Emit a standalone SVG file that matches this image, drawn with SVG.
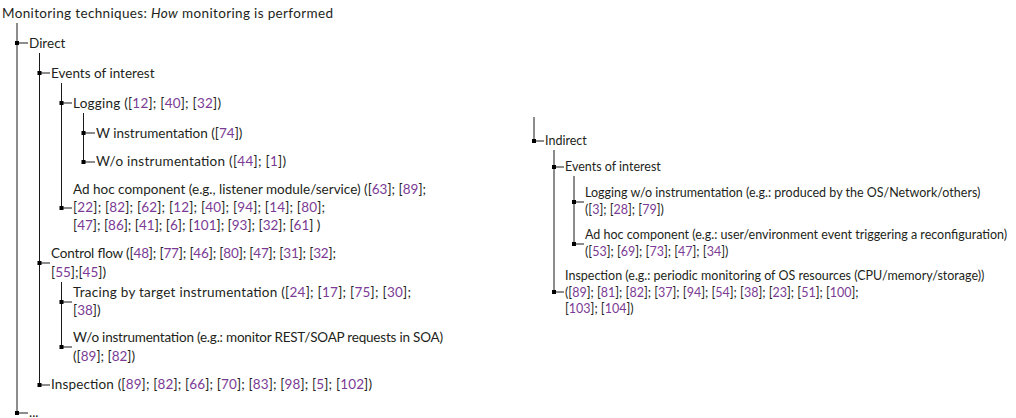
<svg xmlns="http://www.w3.org/2000/svg" width="1016" height="418" viewBox="0 0 1016 418">
  <style>
    text { font-family: Lato, "Open Sans", sans-serif; fill: #231f20; }
    .l { font-size: 13.5px; }
    .r { font-size: 12.5px; }
    .c { fill: #7b3b94; }
    .edge { stroke: #1a1a1a; stroke-width: 1; fill: none; }
    .dot { fill: #000; }
  </style>
  <defs>
    <rect id="sq" x="-2" y="-2" width="4" height="4" class="dot"/>
  </defs>

  <text id="title" class="l" x="2" y="17.5" textLength="331">Monitoring techniques: <tspan font-style="italic">How</tspan> monitoring is performed</text>

  <!-- tree connectors: vertical trunks, elbows and junction squares -->
  <g id="connectors">
    <path class="edge" d="M17 23V413M17 43H28M17 413H28"/>
    <path class="edge" d="M39.5 53V385M39.5 73H50M39.5 263H50M39.5 385H50"/>
    <path class="edge" d="M61.5 83V208M61.5 103H72M61.5 208H72"/>
    <path class="edge" d="M83.5 113V162M83.5 133H95M83.5 162H95"/>
    <path class="edge" d="M61.5 282V347M61.5 302H72M61.5 347H72"/>
    <path class="edge" d="M534 117V141M534 141H544"/>
    <path class="edge" d="M554 150V292M554 167H564M554 292H564"/>
    <path class="edge" d="M574 176V244M574 202H584M574 244H584"/>
    <use href="#sq" x="17" y="43"/>
    <use href="#sq" x="17" y="413"/>
    <use href="#sq" x="39.5" y="73"/>
    <use href="#sq" x="39.5" y="263"/>
    <use href="#sq" x="39.5" y="385"/>
    <use href="#sq" x="61.5" y="103"/>
    <use href="#sq" x="61.5" y="208"/>
    <use href="#sq" x="83.5" y="133"/>
    <use href="#sq" x="83.5" y="162"/>
    <use href="#sq" x="61.5" y="302"/>
    <use href="#sq" x="61.5" y="347"/>
    <use href="#sq" x="534" y="141"/>
    <use href="#sq" x="554" y="167"/>
    <use href="#sq" x="554" y="292"/>
    <use href="#sq" x="574" y="202"/>
    <use href="#sq" x="574" y="244"/>
  </g>

  <!-- direct branch -->
  <g id="direct"><text class="l" x="29" y="47.5">Direct</text></g>
  <g id="direct-events"><text class="l" x="51" y="77.5">Events of interest</text></g>
  <g id="direct-logging"><text class="l" x="73" y="108" textLength="148">Logging ([<tspan class="c">12</tspan>]; [<tspan class="c">40</tspan>]; [<tspan class="c">32</tspan>])</text></g>
  <g id="w-instr"><text class="l" x="96" y="137.5">W instrumentation ([<tspan class="c">74</tspan>])</text></g>
  <g id="wo-instr"><text class="l" x="96" y="166" textLength="190">W/o instrumentation ([<tspan class="c">44</tspan>]; [<tspan class="c">1</tspan>])</text></g>
  <g id="adhoc">
    <text class="l" x="73" y="194">Ad hoc component (e.g., listener module/service) ([<tspan class="c">63</tspan>]; [<tspan class="c">89</tspan>];</text>
    <text class="l" x="73" y="212" textLength="252">[<tspan class="c">22</tspan>]; [<tspan class="c">82</tspan>]; [<tspan class="c">62</tspan>]; [<tspan class="c">12</tspan>]; [<tspan class="c">40</tspan>]; [<tspan class="c">94</tspan>]; [<tspan class="c">14</tspan>]; [<tspan class="c">80</tspan>];</text>
    <text class="l" x="73" y="230">[<tspan class="c">47</tspan>]; [<tspan class="c">86</tspan>]; [<tspan class="c">41</tspan>]; [<tspan class="c">6</tspan>]; [<tspan class="c">101</tspan>]; [<tspan class="c">93</tspan>]; [<tspan class="c">32</tspan>]; [<tspan class="c">61</tspan>] )</text>
  </g>
  <g id="control-flow">
    <text class="l" x="51" y="258" textLength="285">Control flow ([<tspan class="c">48</tspan>]; [<tspan class="c">77</tspan>]; [<tspan class="c">46</tspan>]; [<tspan class="c">80</tspan>]; [<tspan class="c">47</tspan>]; [<tspan class="c">31</tspan>]; [<tspan class="c">32</tspan>];</text>
    <text class="l" x="51" y="277">[<tspan class="c">55</tspan>];[<tspan class="c">45</tspan>])</text>
  </g>
  <g id="tracing">
    <text class="l" x="73" y="297" textLength="338">Tracing by target instrumentation ([<tspan class="c">24</tspan>]; [<tspan class="c">17</tspan>]; [<tspan class="c">75</tspan>]; [<tspan class="c">30</tspan>];</text>
    <text class="l" x="73" y="315">[<tspan class="c">38</tspan>])</text>
  </g>
  <g id="wo-instr-soa">
    <text class="l" x="73" y="342" textLength="370">W/o instrumentation (e.g.: monitor REST/SOAP requests in SOA)</text>
    <text class="l" x="73" y="361">([<tspan class="c">89</tspan>]; [<tspan class="c">82</tspan>])</text>
  </g>
  <g id="direct-inspection"><text class="l" x="51" y="389" textLength="321">Inspection ([<tspan class="c">89</tspan>]; [<tspan class="c">82</tspan>]; [<tspan class="c">66</tspan>]; [<tspan class="c">70</tspan>]; [<tspan class="c">83</tspan>]; [<tspan class="c">98</tspan>]; [<tspan class="c">5</tspan>]; [<tspan class="c">102</tspan>])</text></g>
  <g id="more"><text class="l" x="29" y="417">...</text></g>

  <!-- indirect branch -->
  <g id="indirect"><text class="r" x="545" y="144.5">Indirect</text></g>
  <g id="indirect-events"><text class="r" x="565" y="171">Events of interest</text></g>
  <g id="indirect-logging">
    <text class="r" x="585" y="197">Logging w/o instrumentation (e.g.: produced by the OS/Network/others)</text>
    <text class="r" x="585" y="214">([<tspan class="c">3</tspan>]; [<tspan class="c">28</tspan>]; [<tspan class="c">79</tspan>])</text>
  </g>
  <g id="indirect-adhoc">
    <text class="r" x="585" y="239">Ad hoc component (e.g.: user/environment event triggering a reconfiguration)</text>
    <text class="r" x="585" y="256">([<tspan class="c">53</tspan>]; [<tspan class="c">69</tspan>]; [<tspan class="c">73</tspan>]; [<tspan class="c">47</tspan>]; [<tspan class="c">34</tspan>])</text>
  </g>
  <g id="indirect-inspection">
    <text class="r" x="565" y="280">Inspection (e.g.: periodic monitoring of OS resources (CPU/memory/storage))</text>
    <text class="r" x="565" y="296.5">([<tspan class="c">89</tspan>]; [<tspan class="c">81</tspan>]; [<tspan class="c">82</tspan>]; [<tspan class="c">37</tspan>]; [<tspan class="c">94</tspan>]; [<tspan class="c">54</tspan>]; [<tspan class="c">38</tspan>]; [<tspan class="c">23</tspan>]; [<tspan class="c">51</tspan>]; [<tspan class="c">100</tspan>];</text>
    <text class="r" x="565" y="313">[<tspan class="c">103</tspan>]; [<tspan class="c">104</tspan>])</text>
  </g>
</svg>
